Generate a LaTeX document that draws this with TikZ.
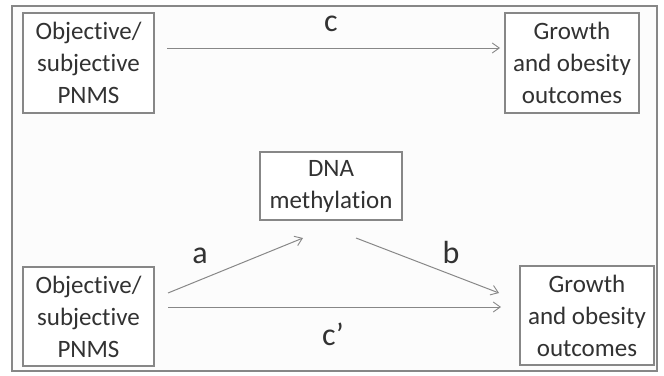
\documentclass[tikz,border=0pt]{standalone}
\usepackage{fontspec}
\setmainfont{Carlito}[Ligatures={NoCommon,NoRare,NoContextual}]
\usetikzlibrary{arrows.meta}
\definecolor{linegray}{RGB}{135,135,135}
\definecolor{textgray}{RGB}{50,50,50}
\definecolor{bggray}{RGB}{252,252,252}
\newcommand{\nolig}{\kern0pt }
\begin{document}
\begin{tikzpicture}[x=1pt,y=-1pt,
  box/.style={draw=linegray,line width=1.1pt,fill=white,inner sep=0pt,align=center,
    text=textgray,font=\fontsize{25}{32}\selectfont},
  conn/.style={draw=linegray,line width=1pt,-{Straight Barb[length=7pt,width=10pt,line width=0.9pt]}},
  lbl/.style={text=textgray,font=\fontsize{32}{36}\selectfont,inner sep=0pt}]
\useasboundingbox (0,0) rectangle (664,375);
\draw[linegray,line width=1.1pt,fill=bggray] (12,6) rectangle (657,371);
\node[box,minimum width=131pt,minimum height=100pt] (tl) at (88.5,63) {Objec\nolig tive/\\subjec\nolig tive\\PNMS};
\node[box,minimum width=134pt,minimum height=100pt] (tr) at (572,63) {Growth\\and obesity\\outcomes};
\node[box,minimum width=142pt,minimum height=68pt] (dna) at (331,186) {DNA\\methyla\nolig tion};
\node[box,minimum width=131pt,minimum height=99pt] (bl) at (88.5,316.5) {Objec\nolig tive/\\subjec\nolig tive\\PNMS};
\node[box,minimum width=134pt,minimum height=99pt] (br) at (587,315.5) {Growth\\and obesity\\outcomes};
\coordinate (c1) at (167,48);
\coordinate (c2) at (500,48);
\coordinate (a1) at (168,293);
\coordinate (a2) at (303,238);
\coordinate (b1) at (356,238);
\coordinate (b2) at (499,293);
\coordinate (d1) at (168,307);
\coordinate (d2) at (501,307);
\draw[conn] (c1) -- (c2);
\draw[conn] (a1) -- (a2);
\draw[conn] (b1) -- (b2);
\draw[conn] (d1) -- (d2);
\node[lbl] (lc) at (331,24) {c};
\node[lbl] (la) at (200,256) {a};
\node[lbl] (lb) at (451,252) {b};
\node[lbl] (lcp) at (333,334) {c’};
\end{tikzpicture}
\end{document}
